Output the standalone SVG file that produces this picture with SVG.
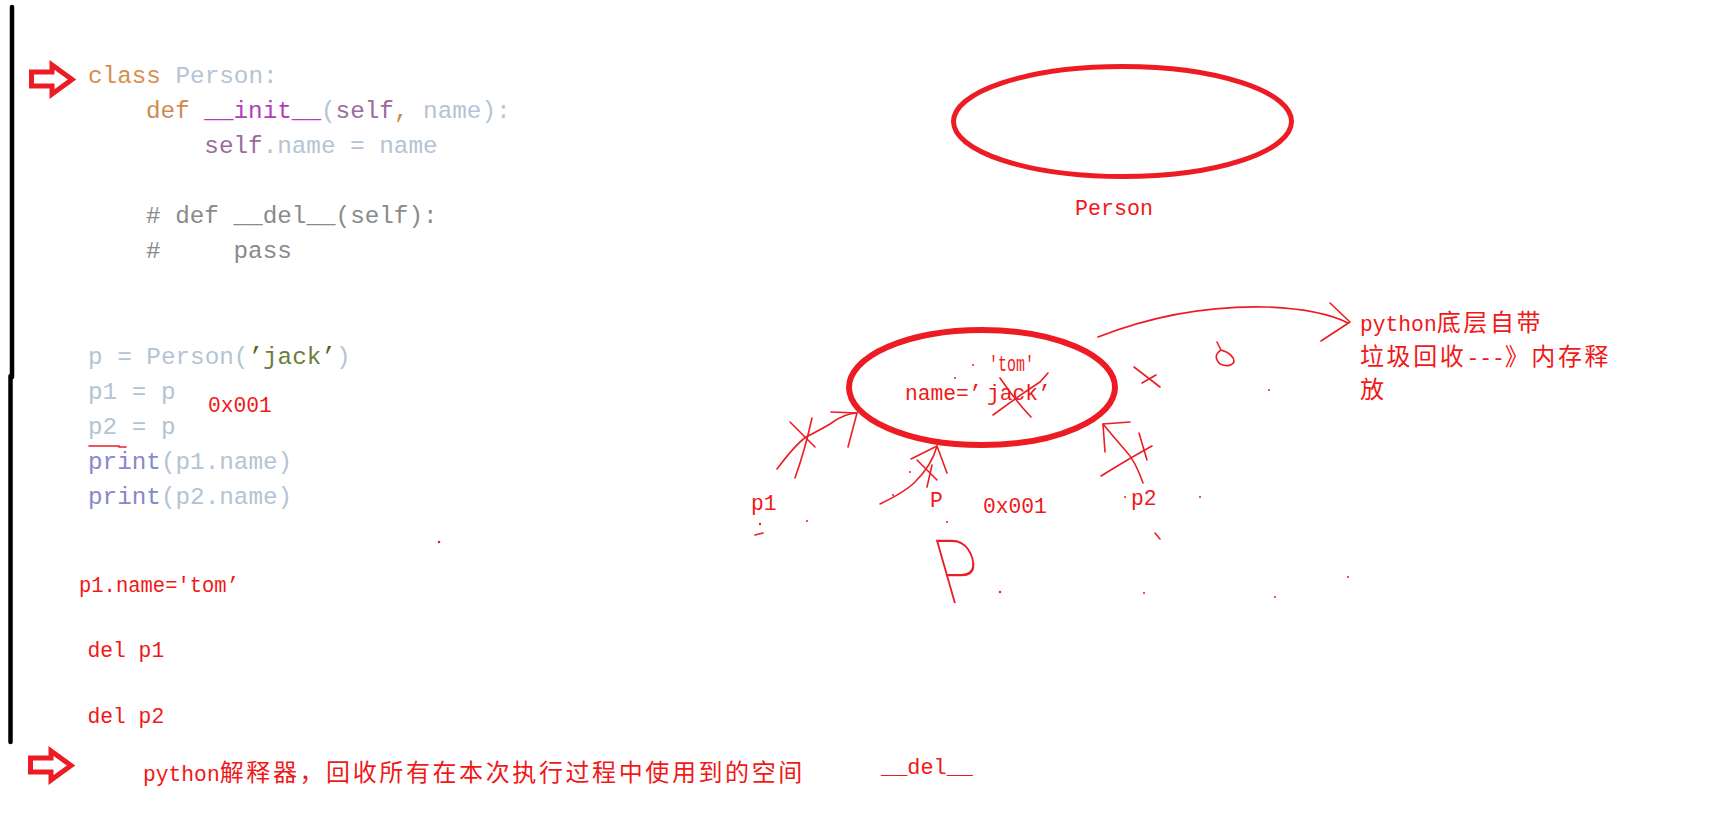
<svg xmlns="http://www.w3.org/2000/svg" width="1709" height="838" viewBox="0 0 1709 838">
<defs>
<style>
.code{font-family:'Liberation Mono','DejaVu Sans Mono',monospace;font-size:24.3px;}
.red{fill:#f01818;font-family:'Liberation Mono','Noto Sans CJK SC',monospace;font-size:21.3px;}
.cjk{font-family:'Noto Sans CJK SC',sans-serif;font-size:24px;letter-spacing:2.6px;}
.hand{fill:none;stroke:#ed1c24;stroke-width:1.6;stroke-linecap:round;stroke-linejoin:round;}
.ell{fill:none;stroke:#ed1c24;}
.blk{fill:#fff;stroke:#ed1c24;stroke-width:5;stroke-linejoin:miter;}
.dot{fill:#ed1c24;}
.lt{fill:#b4c4d4;}
.kw{fill:#d98e4e;}
.cm{fill:#8a8a8a;}
.sf{fill:#9b6b9b;}
.pr{fill:#8888cc;}
</style>
<polygon id="blockArrow" class="blk" points="31.5,72 52,72 52,65 72,79.5 52,94 52,86 31.5,86"/>
</defs>
<rect width="1709" height="838" fill="#fff"/>

<g id="margin-line">
<path d="M12,7 L12,377" stroke="#000" stroke-width="4.5" stroke-linecap="round"/>
<path d="M10.5,376 L10.5,742" stroke="#000" stroke-width="4.5" stroke-linecap="round"/>
</g>

<g id="arrow-top"><use href="#blockArrow"/></g>
<g id="arrow-bottom"><use href="#blockArrow" transform="translate(-1,686)"/></g>

<g id="code">
<text class="code" x="88" y="83" xml:space="preserve"><tspan class="kw">class</tspan><tspan class="lt"> Person:</tspan></text>
<text class="code" x="146" y="118" xml:space="preserve"><tspan fill="#d08a50">def</tspan> <tspan fill="#b23fb8">__init__</tspan><tspan class="lt">(</tspan><tspan class="sf">self</tspan><tspan fill="#c9884f">,</tspan><tspan class="lt"> name):</tspan></text>
<text class="code" x="204.3" y="153" xml:space="preserve"><tspan class="sf">self</tspan><tspan class="lt">.name = name</tspan></text>
<text class="code cm" x="146" y="223" xml:space="preserve"># def __del__(self):</text>
<text class="code cm" x="146" y="258" xml:space="preserve">#     pass</text>
<text class="code" x="88" y="364" xml:space="preserve"><tspan class="lt">p = Person(</tspan><tspan fill="#4f5f2a">’</tspan><tspan fill="#6a7f3a">jack</tspan><tspan fill="#4f5f2a">’</tspan><tspan class="lt">)</tspan></text>
<text class="code lt" x="88" y="399" xml:space="preserve">p1 = p</text>
<text class="code lt" x="88" y="434" xml:space="preserve">p2 = p</text>
<text class="code" x="88" y="469" xml:space="preserve"><tspan class="pr">print</tspan><tspan class="lt">(p1.name)</tspan></text>
<text class="code" x="88" y="504" xml:space="preserve"><tspan class="pr">print</tspan><tspan class="lt">(p2.name)</tspan></text>
<path class="hand" d="M89,446 L119,446 M119,447 L126,447"/>
<text class="red" x="208" y="412">0x001</text>
</g>

<g id="code-red">
<text class="red" x="79" y="592" font-size="20.5" textLength="160" lengthAdjust="spacingAndGlyphs">p1.name='tom’</text>
<text class="red" x="87.5" y="657">del p1</text>
<text class="red" x="87.5" y="723">del p2</text>
</g>

<g id="note-interpreter">
<text class="red" x="143" y="781" font-size="21.7">python<tspan class="cjk">解释器，回收所有在本次执行过程中使用到的空间</tspan></text>
<text class="red" x="881" y="774" font-size="20" textLength="92" lengthAdjust="spacingAndGlyphs">__del__</text>
</g>

<g id="person-class">
<ellipse class="ell" cx="1122.5" cy="121.5" rx="169" ry="55" stroke-width="5"/>
<text class="red" x="1075" y="215" font-size="25" textLength="78" lengthAdjust="spacingAndGlyphs">Person</text>
</g>

<g id="person-object">
<ellipse class="ell" cx="982" cy="387.5" rx="133" ry="57.5" stroke-width="6"/>
<text class="red" x="989" y="371" font-size="20.5" textLength="45" lengthAdjust="spacingAndGlyphs">'tom'</text>
<text class="red" x="905" y="400" font-size="20.5">name=’<tspan x="987">jack’</tspan></text>
<path class="hand" d="M1000,378 Q1015,400 1031,417 M993,415 Q1020,395 1040,382 L1048,373"/>
</g>

<g id="gc-note">
<text class="red" x="1360" y="331" font-size="21.7">python<tspan class="cjk">底层自带</tspan></text>
<text class="red" x="1360" y="365" font-size="21.7"><tspan class="cjk">垃圾回收</tspan>---<tspan class="cjk">》内存释</tspan></text>
<text class="red" x="1360" y="398" font-size="21.7"><tspan class="cjk">放</tspan></text>
</g>

<g id="labels">
<text class="red" x="751" y="510" font-size="20">p1</text>
<text class="red" x="930" y="507" font-size="20">P</text>
<text class="red" x="983" y="513" font-size="21.7">0x001</text>
<text class="red" x="1131" y="505" font-size="20">p2</text>
<text transform="translate(947,603) skewX(16) scale(0.8,1)" x="0" y="0" font-family="Roboto,Inter,'Noto Sans',sans-serif" font-weight="100" font-size="89" fill="#ed1c24">P</text>
</g>

<g id="connectors">
<path class="hand" d="M1098,337 Q1180,305 1266,307 Q1320,309 1348,323"/>
<path class="hand" d="M1330,303 L1350,322 L1321,341"/>
<path class="hand" d="M777,469 Q795,445 806,437 Q820,430 830,424 Q845,413 857,413"/>
<path class="hand" d="M831,412 L857,413 L848,447"/>
<path class="hand" d="M790,422 L815,447 M812,418 Q805,450 795,478"/>
<path class="hand" d="M880,504 Q905,492 915,482 Q932,465 937,446"/>
<path class="hand" d="M911,459 L937,446 L947,473"/>
<path class="hand" d="M917,460 L937,480 M932,465 L927,487"/>
<path class="hand" d="M1143,483 Q1135,460 1125,450 Q1112,435 1103,424"/>
<path class="hand" d="M1130,422 L1103,424 L1105,452"/>
<path class="hand" d="M1101,476 Q1130,458 1152,446 M1139,433 L1147,460"/>
<path class="hand" d="M1134,367 L1160,387 M1142,383 L1156,375"/>
<path class="hand" d="M1217,342 L1221,350 Q1212,356 1220,364 Q1230,368 1234,362 Q1234,354 1221,350"/>
</g>

<g id="marks">
<circle class="dot" cx="439" cy="542" r="1.3"/>
<circle class="dot" cx="760" cy="524" r="1.2"/>
<path class="hand" d="M755,535 L763,533"/>
<circle class="dot" cx="807" cy="521" r="1"/>
<circle class="dot" cx="910" cy="472" r="1"/>
<circle class="dot" cx="893" cy="495" r="1"/>
<circle class="dot" cx="947" cy="522" r="1"/>
<circle class="dot" cx="973" cy="365" r="1"/>
<circle class="dot" cx="955" cy="378" r="1"/>
<circle class="dot" cx="1000" cy="592" r="1.2"/>
<circle class="dot" cx="1125" cy="497" r="1"/>
<circle class="dot" cx="1200" cy="497" r="1"/>
<path class="hand" d="M1155,533 L1160,539"/>
<circle class="dot" cx="1144" cy="593" r="1"/>
<circle class="dot" cx="1275" cy="597" r="1"/>
<circle class="dot" cx="1348" cy="577" r="1"/>
<circle class="dot" cx="1269" cy="390" r="1"/>
</g>
</svg>
